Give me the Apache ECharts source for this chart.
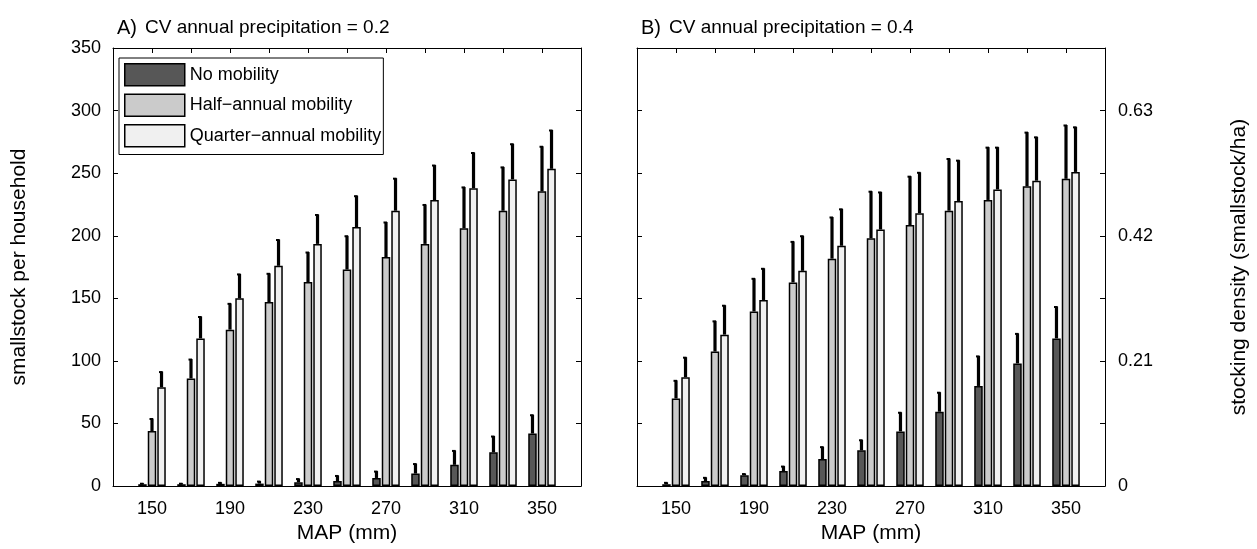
<!DOCTYPE html>
<html><head><meta charset="utf-8">
<script src="https://cdn.jsdelivr.net/npm/echarts@6/dist/echarts.min.js"></script>
<style>html,body{margin:0;padding:0;background:#fff}#c{width:1257px;height:549px}</style>
</head><body><div id="c"></div>
<script>
// ---- data ----
const categories = [150,170,190,210,230,250,270,290,310,330,350];
const frameStart = 130, frameEnd = 370;          // axis frame extends one step past the data
const xLabelsShown = [150,190,230,270,310,350];
const densityTickValues = [0,100,200,300];        // smallstock/household positions of density labels
const densityLabels = ['0','0.21','0.42','0.63'];
const seriesNames = ['No mobility','Half\u2212annual mobility','Quarter\u2212annual mobility'];
const panelTitles = ['CV annual precipitation = 0.2','CV annual precipitation = 0.4'];
const panelLetters = ['A)','B)'];

// Panel A (CV = 0.2): bar means and upper error limits
const A_none      = [1.5, 1.5, 1.8, 2, 3, 4, 6.5, 10, 17, 27, 42];
const A_none_hi   = [2.3, 2.3, 3, 4, 6, 8.5, 12, 18, 28.5, 40, 57];
const A_half      = [44, 86, 125, 147, 163, 173, 183, 193.5, 206, 220, 235.5];
const A_half_hi   = [54, 101.5, 146, 170, 187, 200, 211, 225, 239, 255, 271.5];
const A_quarter   = [79, 118, 150, 176, 193.5, 207, 220, 228.5, 238, 245, 253.5];
const A_quarter_hi= [91.5, 135.5, 169.5, 197, 217, 232, 246, 256.5, 266.5, 273.5, 284.5];
// Panel B (CV = 0.4)
const B_none      = [1.5, 4, 8.6, 12, 21.6, 28.6, 43.7, 59.4, 80, 98, 118];
const B_none_hi   = [3, 7, 10, 16, 31.5, 37, 59, 75, 104, 122, 143.5];
const B_half      = [70, 107.5, 139.5, 162.7, 181.7, 198, 208.6, 220, 228.6, 239.5, 245.5];
const B_half_hi   = [84.5, 132, 166, 195.5, 215, 235.6, 247.6, 261.7, 270.8, 282.8, 288.5];
const B_quarter   = [87, 121, 148.7, 172, 192, 205, 218, 227.8, 237, 244, 251];
const B_quarter_hi= [103, 144.5, 174, 200, 221.5, 235, 250.7, 260.4, 270.8, 279, 287];

// ---- styles ----
const colors = ['#575757','#cbcbcb','#f0f0f0'];
const BW = 8.5, GAP = 0.12;
const FONT = 'Liberation Sans, Arial, Helvetica, sans-serif';
const TICK_FS = 18, NAME_FS = 21, TITLE_FS = 19, LEG_FS = 18;
const axisCats = [frameStart, ...categories, frameEnd].map(String);

const panels = [
  {vals:[A_none,A_half,A_quarter], his:[A_none_hi,A_half_hi,A_quarter_hi], grid:{left:113, top:48, width:468, height:446}},
  {vals:[B_none,B_half,B_quarter], his:[B_none_hi,B_half_hi,B_quarter_hi], grid:{left:637, top:48, width:468, height:446}}
];

const lineStyle = {color:'#000', width:1};
const grids = [], xAxes = [], yAxes = [], series = [], graphics = [];
panels.forEach((p, pi) => {
  grids.push(p.grid);
  const common = {type:'category', data:axisCats, boundaryGap:false, gridIndex:pi,
    axisLine:{show:true, onZero:false, lineStyle}, axisTick:{show:true, inside:true, length:5, interval:0, lineStyle},
    splitLine:{show:false}};
  xAxes.push(Object.assign({}, common, {position:'bottom',
    axisLabel:{show:true, interval:(i, v) => xLabelsShown.includes(+v), color:'#000', fontSize:TICK_FS, fontFamily:FONT, margin:14},
    name:'MAP (mm)', nameLocation:'middle', nameGap:35, nameTextStyle:{color:'#000', fontSize:NAME_FS, fontFamily:FONT}}));
  xAxes.push(Object.assign({}, common, {position:'top', axisLabel:{show:false}}));
  const yCommon = {type:'value', min:0, max:350, interval:50, gridIndex:pi,
    axisLine:{show:true, lineStyle}, axisTick:{show:true, inside:true, length:5, lineStyle}, splitLine:{show:false}};
  yAxes.push(Object.assign({}, yCommon, {position:'left',
    axisLabel:{show: pi===0, color:'#000', fontSize:TICK_FS, fontFamily:FONT, margin:12},
    name: pi===0 ? 'smallstock per household' : '', nameLocation:'middle', nameGap:83,
    nameTextStyle:{color:'#000', fontSize:NAME_FS, fontFamily:FONT}}));
  yAxes.push(Object.assign({}, yCommon, {position:'right',
    axisLabel:{show: pi===1, color:'#000', fontSize:TICK_FS, fontFamily:FONT, margin:13,
      formatter:v => { const k = densityTickValues.indexOf(v); return k >= 0 ? densityLabels[k] : ''; }},
    name: pi===1 ? 'stocking density (smallstock/ha)' : '', nameLocation:'middle', nameGap:124, nameRotate:90,
    nameTextStyle:{color:'#000', fontSize:NAME_FS, fontFamily:FONT}}));

  p.vals.forEach((vals, k) => {
    series.push({type:'bar', name:seriesNames[k], xAxisIndex:pi*2, yAxisIndex:pi*2,
      data:[null, ...vals, null], barWidth:BW, barGap:(GAP*100)+'%', z:3,
      itemStyle:{color:colors[k], borderColor:'#000', borderWidth:1.5}, emphasis:{disabled:true}, animation:false});
  });
  p.vals.forEach((vals, k) => {
    const his = p.his[k];
    const offset = (k - 1) * BW * (1 + GAP);
    series.push({type:'custom', name:'err'+pi+k, xAxisIndex:pi*2, yAxisIndex:pi*2, z:2, animation:false, silent:true,
      data: categories.map((c, i) => [i + 1, vals[i], his[i]]),
      renderItem:(params, api) => {
        const a = api.coord([api.value(0), api.value(1)]);
        const b = api.coord([api.value(0), api.value(2)]);
        const x = a[0] + offset;
        return {type:'group', children:[
          {type:'line', shape:{x1:x, y1:a[1], x2:x, y2:b[1]}, style:{stroke:'#000', lineWidth:3.2}},
          {type:'line', shape:{x1:x-2.5, y1:b[1]+0.5, x2:x+1, y2:b[1]+0.5}, style:{stroke:'#000', lineWidth:2}}
        ]};
      }});
  });
  graphics.push({type:'text', left: p.grid.left + 4, top: 18, style:{text:panelLetters[pi], fill:'#000', font:'20px '+FONT}});
  graphics.push({type:'text', left: p.grid.left + 32, top: 18, style:{text:panelTitles[pi], fill:'#000', font:TITLE_FS+'px '+FONT}});
});

const chart = echarts.init(document.getElementById('c'), null, {renderer:'canvas'});
chart.setOption({
  animation:false,
  backgroundColor:'#fff',
  grid:grids, xAxis:xAxes, yAxis:yAxes, series,
  graphic:graphics,
  legend:{data:seriesNames, orient:'vertical', left:119, top:58, padding:[5,2,7,5], itemGap:7,
    itemWidth:60, itemHeight:22, icon:'rect', backgroundColor:'#fff', borderColor:'#000', borderWidth:1,
    itemStyle:{borderColor:'#000', borderWidth:1.5},
    textStyle:{color:'#000', fontSize:LEG_FS, fontFamily:FONT, lineHeight:22}, selectedMode:false}
});
</script></body></html>
